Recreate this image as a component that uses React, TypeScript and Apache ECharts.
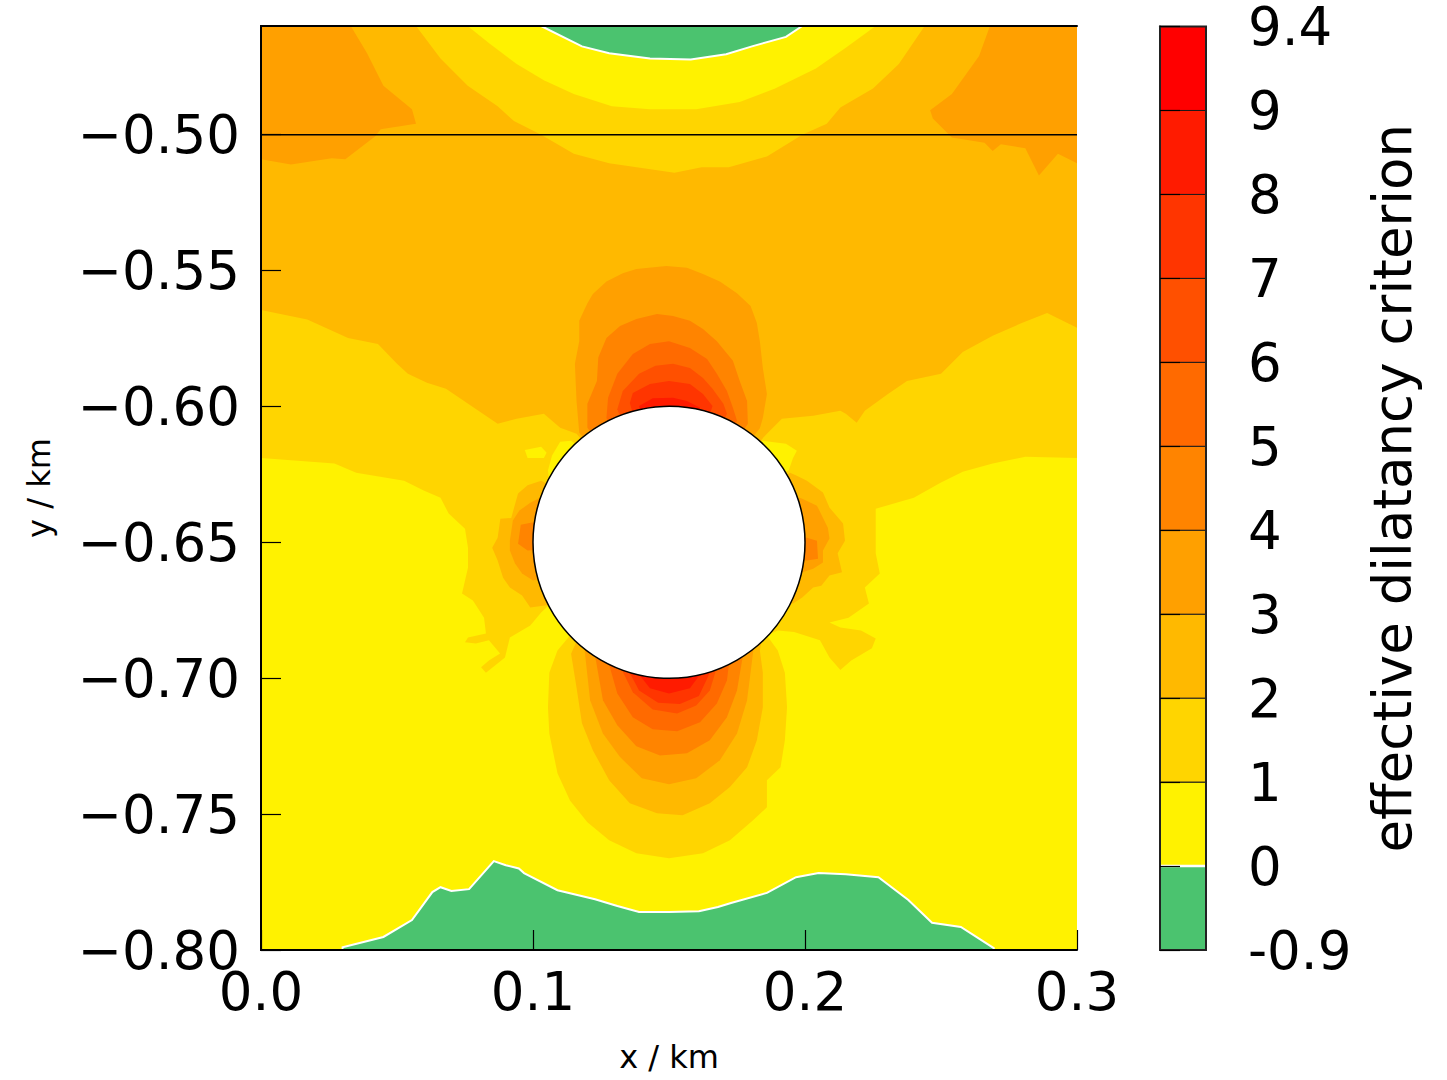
import React, { useEffect, useRef } from "react";
import * as echarts from "echarts";

type Pt = [number, number];

// ---- axes / geometry (km) ----
const X_MIN = 0;
const X_MAX = 0.3;
const X_STEP = 0.1;
const Y_MIN = -0.8;
const Y_MAX = -0.46;
const Y_STEP = 0.05;
const LAYER_BOUNDARY_Y = -0.5;
const CAVITY = { x: 0.15, y: -0.65, r: 0.05 };

// ---- colour bands: <0, 0-1, 1-2, ..., 8-9, 9-9.4 ----
const BAND_COLORS = [
  "#4bc36f", "#fff200", "#ffd500", "#ffb900", "#ffa000", "#ff8400",
  "#ff6a00", "#ff5000", "#ff3500", "#ff1b00", "#ff0000",
];
const CB_TICKS = ["-0.9", "0", "1", "2", "3", "4", "5", "6", "7", "8", "9", "9.4"];

// ---- contour regions (x km, y km) ----
const PLOT_EXTENT: Pt[] = [[X_MIN, Y_MIN], [X_MAX, Y_MIN], [X_MAX, Y_MAX], [X_MIN, Y_MAX]];

const GOLD_1: Pt[] = [
  [0, -0.46], [0.3, -0.46], [0.3, -0.619], [0.281, -0.6185], [0.269, -0.621], [0.258, -0.624],
  [0.25, -0.628], [0.24, -0.6336], [0.226, -0.6376], [0.226, -0.6457], [0.226, -0.654],
  [0.2275, -0.6615], [0.222, -0.6666], [0.2235, -0.6725], [0.216, -0.6777], [0.209, -0.6795],
  [0.213, -0.6813], [0.2206, -0.6824], [0.226, -0.6854], [0.2246, -0.689], [0.217, -0.6935],
  [0.213, -0.697], [0.209, -0.6924], [0.2055, -0.686], [0.196, -0.683], [0.19, -0.6824],
  [0.186, -0.6843],
  [0.19, -0.6898], [0.1926, -0.698], [0.1934, -0.7107], [0.1926, -0.7228], [0.191, -0.7328],
  [0.186, -0.7375], [0.186, -0.7475], [0.181, -0.7522], [0.1724, -0.7596], [0.1625, -0.7644],
  [0.15, -0.7662], [0.138, -0.7644], [0.128, -0.7596], [0.12, -0.753], [0.1136, -0.745],
  [0.109, -0.735], [0.106, -0.7203], [0.1055, -0.7107], [0.106, -0.698], [0.109, -0.6898],
  [0.1136, -0.6843],
  [0.125, -0.6714],
  [0.106, -0.673], [0.103, -0.6758], [0.099, -0.6806], [0.0915, -0.685], [0.0897, -0.6924],
  [0.0827, -0.698], [0.0809, -0.696], [0.0838, -0.6935], [0.0879, -0.6909], [0.0838, -0.686],
  [0.079, -0.6872], [0.075, -0.6868], [0.0761, -0.685], [0.0827, -0.6835], [0.082, -0.6777],
  [0.0779, -0.6714], [0.0739, -0.6688], [0.0761, -0.6593], [0.0761, -0.652], [0.075, -0.645],
  [0.069, -0.6394], [0.066, -0.6336], [0.06, -0.631], [0.0526, -0.6273], [0.035, -0.6244],
  [0.027, -0.621], [0, -0.619],
];

const SPOT_L1: Pt[] = [[0.097, -0.616], [0.103, -0.6148], [0.105, -0.617], [0.104, -0.619], [0.098, -0.619]];
const SPOT_L2: Pt[] = [[0.11, -0.613], [0.114, -0.6126], [0.117, -0.6148], [0.11, -0.6255], [0.106, -0.628], [0.1055, -0.6236], [0.107, -0.618]];
const SPOT_R: Pt[] = [[0.184, -0.6126], [0.193, -0.6137], [0.197, -0.6163], [0.1956, -0.619], [0.194, -0.6236], [0.191, -0.6244]];

const MAIN_2: Pt[] = [
  [0, -0.46], [0.3, -0.46], [0.3, -0.571], [0.289, -0.5656], [0.279, -0.5696], [0.269, -0.574],
  [0.258, -0.58], [0.25, -0.588], [0.2375, -0.5906], [0.2305, -0.5954], [0.222, -0.6016],
  [0.219, -0.606], [0.215, -0.6027], [0.213, -0.6016], [0.203, -0.6034], [0.1915, -0.6045],
  [0.186, -0.61], [0.15, -0.65], [0.116, -0.61], [0.11, -0.6078], [0.104, -0.6027],
  [0.094, -0.6045], [0.087, -0.6064], [0.068, -0.5935], [0.061, -0.5913], [0.054, -0.588],
  [0.05, -0.5843], [0.043, -0.577], [0.032, -0.5748], [0.017, -0.568], [0, -0.5645],
];

const LEFT_2: Pt[] = [
  [0.103, -0.6273], [0.098, -0.629], [0.0945, -0.632], [0.092, -0.641], [0.088, -0.6413],
  [0.087, -0.6483], [0.085, -0.652], [0.087, -0.6567], [0.089, -0.663], [0.0915, -0.6666],
  [0.096, -0.6696], [0.099, -0.674], [0.107, -0.6729],
];
const RIGHT_2: Pt[] = [
  [0.1945, -0.6244], [0.197, -0.6255], [0.2007, -0.6273], [0.2066, -0.6317], [0.209, -0.6372],
  [0.214, -0.6431], [0.2147, -0.6494], [0.212, -0.654], [0.2136, -0.661], [0.209, -0.6622],
  [0.206, -0.666], [0.203, -0.6666], [0.199, -0.6703], [0.1956, -0.6725], [0.1926, -0.673],
];
const LOWER_2: Pt[] = [
  [0.116, -0.6865], [0.114, -0.691], [0.116, -0.7034], [0.118, -0.7166], [0.122, -0.7265],
  [0.128, -0.7375], [0.1356, -0.746], [0.1456, -0.7497], [0.155, -0.7504], [0.165, -0.746],
  [0.1724, -0.74], [0.1787, -0.7328], [0.1823, -0.7228], [0.1845, -0.7107], [0.1845, -0.698],
  [0.1834, -0.6898], [0.184, -0.6865],
];

const CORNER_L3: Pt[] = [
  [0, -0.46], [0.033, -0.46], [0.039, -0.47], [0.045, -0.482], [0.0555, -0.4906], [0.057, -0.496],
  [0.044, -0.498], [0.042, -0.5006], [0.031, -0.509], [0.026, -0.5087], [0.011, -0.511], [0, -0.509],
];
const CORNER_R3: Pt[] = [
  [0.268, -0.46], [0.264, -0.471], [0.254, -0.485], [0.246, -0.491], [0.247, -0.494], [0.254, -0.501],
  [0.266, -0.503], [0.269, -0.506], [0.272, -0.5035], [0.281, -0.505], [0.286, -0.515],
  [0.293, -0.507], [0.3, -0.5105], [0.3, -0.46],
];
const LEFT_3: Pt[] = [
  [0.1026, -0.6336], [0.099, -0.6354], [0.095, -0.6383], [0.0926, -0.642], [0.0915, -0.6494],
  [0.0915, -0.653], [0.0934, -0.6578], [0.096, -0.6615], [0.1, -0.664],
];
const RIGHT_3: Pt[] = [
  [0.198, -0.6336], [0.199, -0.634], [0.2044, -0.6365], [0.2084, -0.6446], [0.209, -0.6486],
  [0.2066, -0.653], [0.2066, -0.6574], [0.203, -0.6597], [0.199, -0.661],
];
const UPPER_3: Pt[] = [
  [0.117, -0.6097], [0.116, -0.598], [0.1154, -0.5843], [0.117, -0.576], [0.117, -0.5685],
  [0.12, -0.562], [0.122, -0.5586], [0.127, -0.554], [0.133, -0.551], [0.138, -0.5494],
  [0.149, -0.5483], [0.1566, -0.549], [0.1625, -0.5513], [0.1687, -0.554], [0.175, -0.5583],
  [0.18, -0.563], [0.1823, -0.5693], [0.1834, -0.576], [0.1845, -0.5858], [0.186, -0.5954],
  [0.1845, -0.6042], [0.1834, -0.608],
];
const LOWER_3: Pt[] = [
  [0.119, -0.6898], [0.121, -0.7081], [0.1257, -0.7203], [0.132, -0.729], [0.14, -0.7368],
  [0.15, -0.739], [0.16, -0.7368], [0.1687, -0.7302], [0.175, -0.7203], [0.1787, -0.7081],
  [0.181, -0.6898],
];

const LEFT_4: Pt[] = [[0.0996, -0.6427], [0.0955, -0.6435], [0.0945, -0.6505], [0.098, -0.653]];
const RIGHT_4: Pt[] = [[0.2007, -0.6483], [0.2044, -0.6494], [0.2048, -0.656], [0.2007, -0.6567]];
const UPPER_4: Pt[] = [
  [0.12, -0.6078], [0.12, -0.599], [0.1235, -0.5906], [0.124, -0.582], [0.127, -0.5748],
  [0.132, -0.5704], [0.138, -0.5678], [0.1456, -0.566], [0.1515, -0.5667], [0.1577, -0.5685],
  [0.1625, -0.5715], [0.1676, -0.576], [0.1735, -0.5832], [0.176, -0.5906], [0.1787, -0.598],
  [0.179, -0.6064],
];
const LOWER_4: Pt[] = [
  [0.123, -0.6927], [0.1257, -0.7081], [0.131, -0.7173], [0.138, -0.725], [0.1467, -0.7284],
  [0.1566, -0.7276], [0.165, -0.7228], [0.1713, -0.7144], [0.175, -0.7045], [0.177, -0.6927],
];
const UPPER_5: Pt[] = [
  [0.127, -0.6042], [0.1276, -0.5968], [0.131, -0.588], [0.1367, -0.5807], [0.143, -0.577],
  [0.15, -0.576], [0.1577, -0.5785], [0.164, -0.5825], [0.1676, -0.588], [0.1713, -0.5943],
  [0.1735, -0.6005], [0.175, -0.6053],
];
const LOWER_5: Pt[] = [
  [0.128, -0.695], [0.131, -0.7056], [0.1367, -0.7144], [0.144, -0.7188], [0.153, -0.7195],
  [0.1614, -0.7162], [0.1676, -0.7093], [0.1713, -0.7008], [0.172, -0.695],
];
const UPPER_6: Pt[] = [
  [0.131, -0.601], [0.133, -0.5943], [0.139, -0.588], [0.145, -0.585], [0.1515, -0.5843],
  [0.1577, -0.5858], [0.1625, -0.5895], [0.166, -0.5935], [0.17, -0.599], [0.1713, -0.6027],
];
const LOWER_6: Pt[] = [
  [0.1327, -0.697], [0.1367, -0.7052], [0.144, -0.7115], [0.153, -0.713], [0.16, -0.71],
  [0.165, -0.7045], [0.1673, -0.697],
];
const UPPER_7: Pt[] = [
  [0.1356, -0.5987], [0.1367, -0.595], [0.143, -0.5917], [0.15, -0.5906], [0.1577, -0.5917],
  [0.1625, -0.5954], [0.166, -0.5998],
];
const LOWER_7: Pt[] = [
  [0.135, -0.697], [0.139, -0.7045], [0.146, -0.709], [0.154, -0.7095], [0.161, -0.7065], [0.1655, -0.697],
];
const UPPER_8: Pt[] = [[0.139, -0.5998], [0.144, -0.597], [0.1515, -0.5968], [0.1566, -0.598], [0.1614, -0.6005]];
const LOWER_8: Pt[] = [[0.139, -0.6986], [0.143, -0.7037], [0.15, -0.7056], [0.1577, -0.7037], [0.1614, -0.6986]];

const TOP_GOLD: Pt[] = [
  [0.057, -0.46], [0.066, -0.472], [0.076, -0.482], [0.087, -0.4895], [0.093, -0.495], [0.103, -0.5],
  [0.115, -0.507], [0.128, -0.5105], [0.152, -0.514], [0.162, -0.512], [0.172, -0.512], [0.186, -0.508],
  [0.199, -0.5], [0.208, -0.496], [0.213, -0.49], [0.225, -0.483], [0.2345, -0.474], [0.244, -0.46],
];
const TOP_YELLOW: Pt[] = [
  [0.076, -0.46], [0.084, -0.4664], [0.094, -0.474], [0.104, -0.48], [0.115, -0.485], [0.129, -0.4895],
  [0.143, -0.4906], [0.16, -0.4906], [0.176, -0.488], [0.189, -0.483], [0.204, -0.4756], [0.215, -0.468],
  [0.226, -0.46],
];
const TOP_GREEN: Pt[] = [
  [0.103, -0.46], [0.118, -0.4675], [0.128, -0.47], [0.143, -0.472], [0.158, -0.4723], [0.171, -0.4704],
  [0.1805, -0.4675], [0.193, -0.464], [0.199, -0.46],
];
const BOTTOM_GREEN: Pt[] = [
  [0.03, -0.8], [0.03, -0.799], [0.045, -0.7952], [0.0555, -0.789], [0.063, -0.7787], [0.066, -0.7769],
  [0.07, -0.7783], [0.0765, -0.7776], [0.0856, -0.7673], [0.09, -0.7688], [0.0948, -0.77], [0.0967, -0.7717],
  [0.109, -0.778], [0.1228, -0.7813], [0.131, -0.7838], [0.139, -0.786], [0.15, -0.786], [0.161, -0.7857],
  [0.168, -0.7842], [0.1728, -0.7827], [0.186, -0.779], [0.1967, -0.7732], [0.205, -0.7717], [0.215, -0.7721],
  [0.227, -0.7732], [0.238, -0.7816], [0.2467, -0.79], [0.2573, -0.7915], [0.2694, -0.7993], [0.2694, -0.8],
];

interface Region { band: number; pts: Pt[]; cavity?: boolean }

const REGIONS: Region[] = [
  { band: 1, pts: PLOT_EXTENT },
  { band: 2, pts: GOLD_1 },
  { band: 1, pts: SPOT_L1 },
  { band: 1, pts: SPOT_L2 },
  { band: 1, pts: SPOT_R },
  { band: 3, pts: MAIN_2 },
  { band: 3, pts: LEFT_2, cavity: true },
  { band: 3, pts: RIGHT_2, cavity: true },
  { band: 3, pts: LOWER_2, cavity: true },
  { band: 4, pts: CORNER_L3 },
  { band: 4, pts: CORNER_R3 },
  { band: 4, pts: LEFT_3, cavity: true },
  { band: 4, pts: RIGHT_3, cavity: true },
  { band: 4, pts: UPPER_3, cavity: true },
  { band: 4, pts: LOWER_3, cavity: true },
  { band: 5, pts: LEFT_4, cavity: true },
  { band: 5, pts: RIGHT_4, cavity: true },
  { band: 5, pts: UPPER_4, cavity: true },
  { band: 5, pts: LOWER_4, cavity: true },
  { band: 6, pts: UPPER_5, cavity: true },
  { band: 6, pts: LOWER_5, cavity: true },
  { band: 7, pts: UPPER_6, cavity: true },
  { band: 7, pts: LOWER_6, cavity: true },
  { band: 8, pts: UPPER_7, cavity: true },
  { band: 8, pts: LOWER_7, cavity: true },
  { band: 9, pts: UPPER_8, cavity: true },
  { band: 9, pts: LOWER_8, cavity: true },
  { band: 2, pts: TOP_GOLD },
  { band: 1, pts: TOP_YELLOW },
  { band: 0, pts: TOP_GREEN },
  { band: 0, pts: BOTTOM_GREEN },
];

const ZERO_CONTOURS: Pt[][] = [TOP_GREEN, BOTTOM_GREEN];

const FONT = "DejaVu Sans";

export default function App() {
  const ref = useRef<HTMLDivElement>(null);

  useEffect(() => {
    document.body.style.margin = "0";
    const chart = echarts.init(ref.current as HTMLDivElement, null, { renderer: "svg" });

    const tickLabelStyle = { fontSize: 53, color: "#000", fontFamily: FONT };
    const frameLine = { show: true, lineStyle: { color: "#000", width: 2 } };

    const option: any = {
      animation: false,
      textStyle: { fontFamily: FONT },
      grid: [
        { left: 261, top: 26, width: 816, height: 924, containLabel: false },
        { left: 1160, top: 26, width: 46, height: 924, containLabel: false },
      ],
      xAxis: [
        {
          gridIndex: 0, type: "value", min: X_MIN, max: X_MAX, interval: X_STEP, position: "bottom", z: 10,
          axisLine: frameLine,
          axisTick: { show: true, inside: true, length: 20, lineStyle: { color: "#000", width: 1.2 } },
          axisLabel: { ...tickLabelStyle, margin: 15, formatter: (v: number) => v.toFixed(1) },
          splitLine: { show: false },
          name: "x / km", nameLocation: "middle", nameGap: 91,
          nameTextStyle: { fontSize: 32, color: "#000", fontFamily: FONT },
        },
        {
          gridIndex: 0, type: "value", min: X_MIN, max: X_MAX, position: "top", z: 10,
          axisLine: frameLine, axisTick: { show: false }, axisLabel: { show: false }, splitLine: { show: false },
        },
        { gridIndex: 1, type: "value", min: 0, max: 1, show: false },
      ],
      yAxis: [
        {
          gridIndex: 0, type: "value", min: Y_MIN, max: Y_MAX, interval: Y_STEP, position: "left", z: 10,
          axisLine: frameLine,
          axisTick: { show: true, inside: true, length: 20, lineStyle: { color: "#000", width: 1.2 } },
          axisLabel: {
            ...tickLabelStyle, margin: 21, showMaxLabel: false,
            formatter: (v: number) => (v < 0 ? "\u2212" : "") + Math.abs(v).toFixed(2),
          },
          splitLine: { show: false },
          name: "y / km", nameLocation: "middle", nameGap: 206, nameRotate: 90,
          nameTextStyle: { fontSize: 32, color: "#000", fontFamily: FONT },
        },
        {
          gridIndex: 0, type: "value", min: Y_MIN, max: Y_MAX, position: "right", z: 10,
          axisLine: frameLine, axisTick: { show: false }, axisLabel: { show: false }, splitLine: { show: false },
        },
        {
          gridIndex: 1, type: "value", min: 0, max: CB_TICKS.length - 1, interval: 1, position: "right", z: 10,
          axisLine: { show: true, lineStyle: { color: "#222", width: 2 } },
          axisTick: { show: true, inside: false, length: 20, lineStyle: { color: "#000", width: 1.2 } },
          axisLabel: {
            ...tickLabelStyle, margin: 42,
            formatter: (v: number) => CB_TICKS[Math.round(v)],
          },
          splitLine: { show: false },
          name: "effective dilatancy criterion", nameLocation: "middle", nameRotate: 90, nameGap: 160,
          nameTextStyle: { fontSize: 53, color: "#000", fontFamily: FONT },
        },
      ],
      series: [
        {
          type: "custom", xAxisIndex: 0, yAxisIndex: 0, clip: true, silent: true, z: 2,
          data: REGIONS.map((_, i) => [CAVITY.x, CAVITY.y, i]),
          renderItem: (params: any, api: any) => {
            const r = REGIONS[params.dataIndex];
            const src: Pt[] = r.cavity ? [...r.pts, [CAVITY.x, CAVITY.y]] : r.pts;
            return {
              type: "polygon",
              shape: { points: src.map((p) => api.coord(p)) },
              style: { fill: BAND_COLORS[r.band], stroke: null },
            };
          },
        },
        {
          type: "custom", xAxisIndex: 0, yAxisIndex: 0, clip: true, silent: true, z: 3,
          data: ZERO_CONTOURS.map((_, i) => [CAVITY.x, CAVITY.y, i]),
          renderItem: (params: any, api: any) => {
            const pts = ZERO_CONTOURS[params.dataIndex];
            return {
              type: "polyline",
              shape: { points: pts.map((p) => api.coord(p)) },
              style: { fill: null, stroke: "#ffffff", lineWidth: 2 },
            };
          },
        },
        {
          type: "line", xAxisIndex: 0, yAxisIndex: 0, silent: true, z: 4,
          symbol: "none", showSymbol: false,
          data: [[X_MIN, LAYER_BOUNDARY_Y], [X_MAX, LAYER_BOUNDARY_Y]],
          lineStyle: { color: "#000", width: 1.5 },
        },
        {
          type: "custom", xAxisIndex: 0, yAxisIndex: 0, silent: true, z: 5,
          data: [[CAVITY.x, CAVITY.y, CAVITY.r]],
          renderItem: (params: any, api: any) => {
            const c = api.coord([api.value(0), api.value(1)]);
            const rr = api.size([api.value(2), 0])[0];
            return {
              type: "circle",
              shape: { cx: c[0], cy: c[1], r: rr },
              style: { fill: "#ffffff", stroke: "#000", lineWidth: 1.5 },
            };
          },
        },
        {
          type: "custom", xAxisIndex: 2, yAxisIndex: 2, silent: true, z: 2,
          data: BAND_COLORS.map((_, i) => [0.5, i + 0.5, i]),
          renderItem: (params: any, api: any) => {
            const i = params.dataIndex;
            const p0 = api.coord([0, i]);
            const p1 = api.coord([1, i + 1]);
            const children: any[] = [
              {
                type: "rect",
                shape: { x: p0[0], y: p1[1], width: p1[0] - p0[0], height: p0[1] - p1[1] },
                style: { fill: BAND_COLORS[i], stroke: "#1a1a1a", lineWidth: 1 },
              },
            ];
            if (i === 1) {
              children.push({
                type: "line",
                shape: { x1: p0[0] + 1, y1: p0[1], x2: p1[0] - 1, y2: p0[1] },
                style: { stroke: "#ffffff", lineWidth: 2.5 },
              });
            }
            return { type: "group", children };
          },
        },
        {
          type: "custom", xAxisIndex: 2, yAxisIndex: 2, silent: true, z: 3,
          data: [[0.5, 0.5]],
          renderItem: (params: any, api: any) => {
            const p0 = api.coord([0, 0]);
            const p1 = api.coord([1, CB_TICKS.length - 1]);
            return {
              type: "rect",
              shape: { x: p0[0], y: p1[1], width: p1[0] - p0[0], height: p0[1] - p1[1] },
              style: { fill: null, stroke: "#222", lineWidth: 2 },
            };
          },
        },
      ],
    };

    chart.setOption(option);
    return () => chart.dispose();
  }, []);

  return <div ref={ref} style={{ width: 1447, height: 1080 }} />;
}
